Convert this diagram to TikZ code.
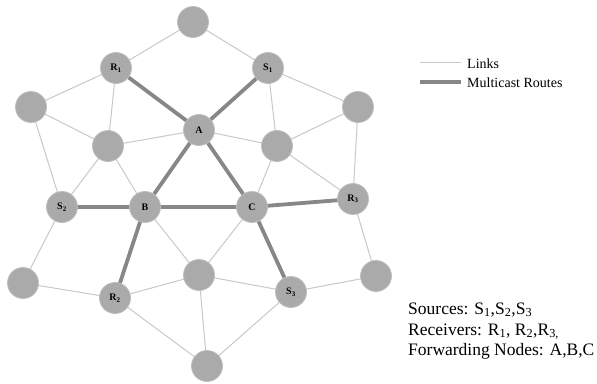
\documentclass[tikz,border=0pt]{standalone}
\usepackage{fontspec}
\setmainfont{Liberation Serif}
\begin{document}
\begin{tikzpicture}[x=1pt,y=-1pt,
  nd/.style={circle,fill=nodegray,draw=nodeedge,line width=0.8pt,minimum size=31pt,inner sep=0pt,font=\fontsize{10}{11}\selectfont\bfseries},
  link/.style={draw=linkgray,line width=1pt},
  route/.style={draw=routegray,line width=3.8pt},
  lab/.style={anchor=base west,inner sep=0pt}]
\definecolor{nodegray}{RGB}{170,170,170}
\definecolor{nodeedge}{RGB}{190,190,190}
\definecolor{linkgray}{RGB}{200,200,200}
\definecolor{routegray}{RGB}{135,135,135}
\useasboundingbox (0,0) rectangle (597,383);
\coordinate (top) at (193,22);
\coordinate (r1) at (116,68);
\coordinate (s1) at (268,68);
\coordinate (lu) at (31,107);
\coordinate (ru) at (358,107);
\coordinate (a) at (199,130);
\coordinate (lm) at (108,146);
\coordinate (rm) at (277,146);
\coordinate (s2) at (62,207);
\coordinate (b) at (145,207);
\coordinate (c) at (252,207);
\coordinate (r3) at (353,199);
\coordinate (ll) at (23,283);
\coordinate (ml) at (199,275);
\coordinate (rl) at (376,276);
\coordinate (r2) at (115,298);
\coordinate (s3) at (291,292);
\coordinate (bot) at (207,366);
\foreach \u/\v in {top/r1,top/s1,r1/lu,r1/lm,s1/ru,s1/rm,lu/lm,lu/s2,lm/a,lm/s2,lm/b,rm/a,rm/ru,rm/c,rm/r3,ru/r3,s2/ll,b/ml,c/ml,r3/rl,ll/r2,r2/ml,r2/bot,ml/s3,ml/bot,s3/rl,s3/bot}
  \path[link] (\u) -- (\v);
\foreach \u/\v in {r1/a,s1/a,a/b,a/c,s2/b,b/c,c/r3,b/r2,c/s3}
  \path[route] (\u) -- (\v);
\node[nd] (ntop) at (top) {};
\node[nd] (nr1) at (r1) {R\textsubscript{1}};
\node[nd] (ns1) at (s1) {S\textsubscript{1}};
\node[nd] (nlu) at (lu) {};
\node[nd] (nru) at (ru) {};
\node[nd] (na) at (a) {A};
\node[nd] (nlm) at (lm) {};
\node[nd] (nrm) at (rm) {};
\node[nd] (ns2) at (s2) {S\textsubscript{2}};
\node[nd] (nb) at (b) {B};
\node[nd] (nc) at (c) {C};
\node[nd] (nr3) at (r3) {R\textsubscript{3}};
\node[nd] (nll) at (ll) {};
\node[nd] (nml) at (ml) {};
\node[nd] (nrl) at (rl) {};
\node[nd] (nr2) at (r2) {R\textsubscript{2}};
\node[nd] (ns3) at (s3) {S\textsubscript{3}};
\node[nd] (nbot) at (bot) {};
% legend
\coordinate (l1a) at (420,62); \coordinate (l1b) at (461,62);
\coordinate (l2a) at (420,82); \coordinate (l2b) at (461,82);
\path[link] (l1a) -- (l1b);
\path[route,line width=3.5pt] (l2a) -- (l2b);
\node[lab,font=\fontsize{14}{15}\selectfont] (tl1) at (467,68) {Links};
\node[lab,font=\fontsize{14}{15}\selectfont] (tl2) at (467,87) {Multicast Routes};
\node[lab,font=\fontsize{17.5}{19}\selectfont] (t1) at (408,314) {Sources: S\textsubscript{1},S\textsubscript{2},S\textsubscript{3}};
\node[lab,font=\fontsize{17.5}{19}\selectfont] (t2) at (408,335) {Receivers: R\textsubscript{1}, R\textsubscript{2},R\textsubscript{3,}};
\node[lab,font=\fontsize{17.5}{19}\selectfont] (t3) at (408,355) {Forwarding Nodes: A,B,C};
\end{tikzpicture}
\end{document}
